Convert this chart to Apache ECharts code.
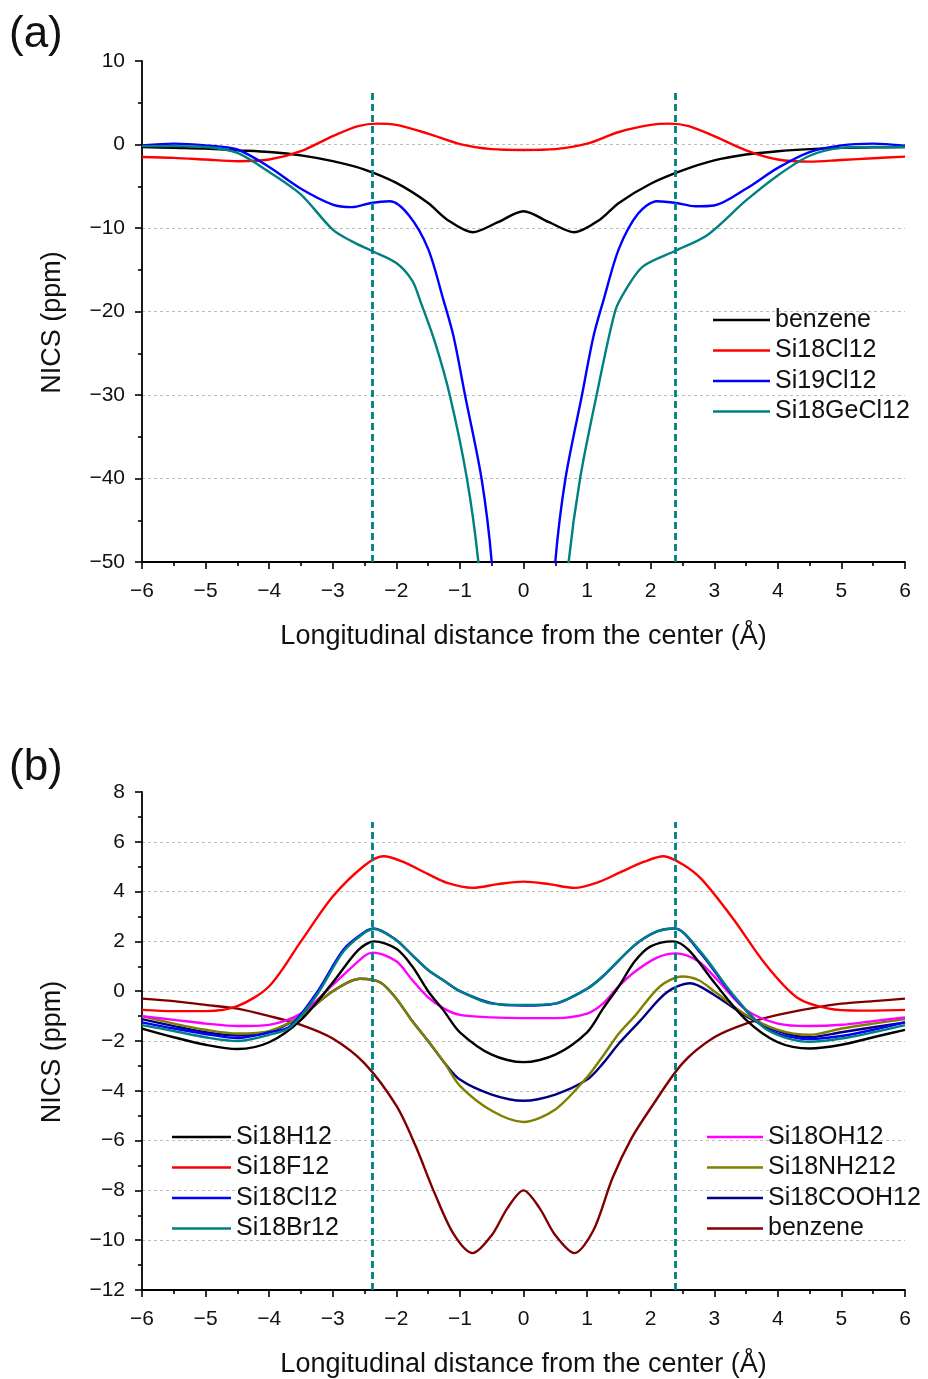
<!DOCTYPE html>
<html>
<head>
<meta charset="utf-8">
<script src="https://cdn.jsdelivr.net/npm/echarts@6/dist/echarts.min.js"></script>
<style>
html,body{margin:0;padding:0;background:#fff}
#chart{width:928px;height:1379px}
</style>
</head>
<body>
<div id="chart"></div>
<script>
// panel (a)
const aBenzeneX = [-6,-5.5,-5,-4.5,-4,-3.5,-3,-2.5,-2,-1.5,-1.2,-0.8,-0.4,0,0.4,0.8,1.2,1.5,2,2.5,3,3.5,4,4.5,5,5.5,6]
const aBenzeneY = [-0.3,-0.4,-0.5,-0.7,-0.9,-1.3,-2.0,-3.0,-4.6,-7.0,-9.0,-10.5,-9.3,-8.0,-9.3,-10.5,-9.0,-7.0,-4.7,-3.1,-1.9,-1.2,-0.8,-0.55,-0.4,-0.35,-0.3]
const aSi18Cl12X = [-6,-5.5,-5,-4.5,-4,-3.5,-3,-2.6,-2.3,-2,-1.5,-1,-0.5,0,0.5,1,1.5,2,2.3,2.6,3,3.5,4,4.5,5,5.5,6]
const aSi18Cl12Y = [-1.5,-1.6,-1.8,-2.0,-1.8,-0.8,1.0,2.2,2.5,2.35,1.3,0.05,-0.55,-0.65,-0.55,0.1,1.5,2.35,2.5,2.2,1.0,-0.7,-1.8,-2.05,-1.85,-1.65,-1.45]
const aSi19Cl12X = [-6,-5.5,-5,-4.5,-4,-3.5,-3,-2.7,-2.4,-2.1,-1.8,-1.5,-1.26,-1.1,-0.92,-0.66,-0.5,-0.3,0,0.3,0.5,0.66,0.92,1.1,1.26,1.5,1.8,2.1,2.4,2.7,3,3.5,4,4.5,5,5.5,6]
const aSi19Cl12Y = [-0.1,0.1,-0.1,-0.6,-2.7,-5.3,-7.2,-7.5,-7.0,-6.8,-8.5,-12.5,-18.6,-23,-30,-40,-50,-72,-100,-72,-50,-40,-30,-23,-18.6,-12.5,-8.3,-6.8,-7.0,-7.4,-7.3,-5.3,-2.8,-0.9,-0.1,0.1,-0.15]
const aSi18GeCl12X = [-6,-5.5,-5,-4.5,-4,-3.5,-3,-2.7,-2.4,-2,-1.75,-1.63,-1.4,-1.16,-0.89,-0.71,-0.5,0,0.5,0.71,0.89,1.15,1.44,1.6,1.88,2.4,2.9,3.5,4,4.5,5,5.5,6]
const aSi18GeCl12Y = [-0.2,-0.2,-0.3,-1.0,-3.3,-6.0,-10.2,-11.6,-12.7,-14.2,-16.3,-18.6,-23.5,-30,-40,-50,-68,-100,-68,-50,-40,-30,-20,-17.5,-14.6,-12.7,-10.8,-6.7,-3.7,-1.35,-0.4,-0.3,-0.3]

// panel (b)
const bSi18H12X = [-6,-5.5,-5,-4.5,-4,-3.5,-3,-2.6,-2.35,-2,-1.75,-1.5,-1.25,-1,-0.5,0,0.5,1,1.25,1.5,1.75,2,2.35,2.6,3,3.5,4,4.5,5,5.5,6]
const bSi18H12Y = [-1.5,-1.85,-2.15,-2.32,-2.05,-1.15,0.35,1.65,2.0,1.7,1.0,0.0,-0.8,-1.65,-2.55,-2.85,-2.55,-1.65,-0.7,0.2,1.2,1.8,2.0,1.65,0.35,-1.15,-2.05,-2.3,-2.15,-1.85,-1.55]
const bSi18F12X = [-6,-5.5,-5,-4.5,-4,-3.5,-3,-2.5,-2.2,-1.9,-1.5,-1.2,-0.8,-0.4,0,0.4,0.8,1.2,1.5,1.9,2.2,2.5,2.8,3.3,3.8,4.3,4.8,5.3,6]
const bSi18F12Y = [-0.75,-0.8,-0.8,-0.6,0.2,2.0,3.8,5.05,5.42,5.2,4.7,4.35,4.15,4.3,4.4,4.3,4.15,4.4,4.75,5.2,5.42,5.1,4.5,2.9,1.1,-0.25,-0.7,-0.78,-0.75]
const bSi18Cl12X = [-6,-5.5,-5,-4.5,-4,-3.67,-3.25,-2.83,-2.5,-2.35,-2,-1.75,-1.5,-1.25,-1,-0.5,0,0.5,1,1.25,1.75,2.1,2.38,2.78,3.3,3.83,4.5,5,5.5,6]
const bSi18Cl12Y = [-1.25,-1.5,-1.72,-1.88,-1.65,-1.4,-0.05,1.68,2.38,2.52,2.05,1.45,0.85,0.42,0.0,-0.48,-0.58,-0.5,0.1,0.6,1.85,2.4,2.52,1.55,-0.19,-1.52,-1.92,-1.8,-1.55,-1.25]
const bSi18Br12X = [-6,-5.5,-5,-4.5,-4,-3.67,-3.25,-2.83,-2.5,-2.35,-2,-1.75,-1.5,-1.25,-1,-0.5,0,0.5,1,1.25,1.75,2.1,2.38,2.78,3.3,3.83,4.5,5,5.5,6]
const bSi18Br12Y = [-1.36,-1.6,-1.85,-2.0,-1.75,-1.45,-0.15,1.6,2.35,2.5,2.05,1.45,0.85,0.42,0.0,-0.5,-0.55,-0.5,0.1,0.6,1.85,2.4,2.52,1.6,-0.15,-1.55,-2.03,-1.9,-1.65,-1.36]
const bSi18OH12X = [-6,-5.5,-5,-4.5,-4,-3.5,-3,-2.5,-2.37,-2,-1.75,-1.5,-1.25,-1,-0.5,0,0.5,1,1.25,1.5,1.75,2.1,2.4,2.75,3.05,3.5,4,4.5,5,5.5,6]
const bSi18OH12Y = [-1.0,-1.15,-1.3,-1.4,-1.35,-0.9,0.25,1.42,1.55,1.2,0.45,-0.25,-0.7,-0.95,-1.05,-1.08,-1.08,-0.9,-0.5,0.2,0.78,1.35,1.52,1.2,0.45,-0.75,-1.3,-1.4,-1.35,-1.2,-1.05]
const bSi18NH212X = [-6,-5.5,-5,-4.5,-4,-3.5,-3,-2.57,-2.25,-2,-1.75,-1.5,-1.25,-1,-0.5,0,0.5,1,1.25,1.5,1.75,2.15,2.5,2.75,3,3.5,4,4.5,5,5.5,6]
const bSi18NH212Y = [-1.0,-1.3,-1.55,-1.7,-1.6,-1.0,0.0,0.5,0.35,-0.3,-1.2,-2.0,-2.85,-3.8,-4.8,-5.25,-4.75,-3.45,-2.6,-1.7,-1.0,0.2,0.59,0.45,0.0,-0.95,-1.55,-1.75,-1.5,-1.3,-1.12]
const bSi18COOH12X = [-6,-5.5,-5,-4.5,-4,-3.5,-3,-2.57,-2.25,-2,-1.75,-1.5,-1.25,-1,-0.5,0,0.5,1,1.25,1.5,1.83,2.25,2.62,3,3.5,4,4.5,5,5.5,6]
const bSi18COOH12Y = [-1.12,-1.4,-1.65,-1.78,-1.65,-1.0,0.0,0.5,0.35,-0.3,-1.2,-2.0,-2.85,-3.55,-4.15,-4.4,-4.15,-3.55,-2.9,-2.1,-1.2,-0.05,0.32,-0.15,-1.0,-1.6,-1.85,-1.65,-1.45,-1.25]
const bBenzeneX = [-6,-5.5,-5,-4.5,-4,-3.5,-3,-2.5,-2,-1.7,-1.4,-1.1,-0.8,-0.5,-0.25,0,0.25,0.5,0.8,1.1,1.4,1.7,2,2.5,3,3.5,4,4.5,5,5.5,6]
const bBenzeneY = [-0.3,-0.4,-0.55,-0.7,-1.0,-1.35,-1.9,-2.9,-4.6,-6.2,-8.1,-9.75,-10.52,-9.8,-8.7,-8.0,-8.7,-9.8,-10.52,-9.6,-7.5,-5.9,-4.7,-2.9,-1.85,-1.3,-0.95,-0.7,-0.5,-0.4,-0.3]

// dashed boundary lines
const boundaryX = [-2.38, 2.38]
const boundaryTopA = 6.3
const boundaryTopB = 6.8

const FONT = 'Liberation Sans, Arial, sans-serif'

function pairs(xs, ys) {
    return xs.map((x, i) => [x, ys[i]])
}

// origin style minus sign
function tickText(v) {
    return String(v).replace('-', '\u2212')
}

function lineSeries(name, xs, ys, color, idx) {
    return {
        name: name,
        type: 'line',
        xAxisIndex: idx,
        yAxisIndex: idx,
        data: pairs(xs, ys),
        smooth: 0.3,
        symbol: 'none',
        clip: true,
        lineStyle: {color: color, width: 2.4},
        itemStyle: {color: color},
        z: 3
    }
}

function boundarySeries(idx, yMin, yTop) {
    return {
        type: 'line',
        xAxisIndex: idx,
        yAxisIndex: idx,
        data: [],
        markLine: {
            silent: true,
            symbol: 'none',
            label: {show: false},
            lineStyle: {color: '#008080', width: 2.8, type: [7, 4]},
            data: boundaryX.map(x => [{coord: [x, yMin]}, {coord: [x, yTop]}])
        }
    }
}

function xAxisOf(idx) {
    return {
        gridIndex: idx,
        type: 'value',
        min: -6, max: 6, interval: 1,
        name: 'Longitudinal distance from the center (Å)',
        nameLocation: 'middle',
        nameGap: 61,
        nameTextStyle: {fontSize: 27, color: '#111', fontFamily: FONT},
        axisLine: {show: true, onZero: false, lineStyle: {color: '#000', width: 1.8}},
        axisTick: {show: true, length: 7, lineStyle: {color: '#000', width: 1.6}},
        minorTick: {show: true, splitNumber: 2, length: 4, lineStyle: {color: '#000', width: 1.6}},
        axisLabel: {fontSize: 21, color: '#111', margin: 19, fontFamily: FONT, formatter: tickText},
        splitLine: {show: false}
    }
}

function yAxisOf(idx, min, max, interval) {
    return {
        gridIndex: idx,
        type: 'value',
        min: min, max: max, interval: interval,
        name: 'NICS (ppm)',
        nameLocation: 'middle',
        nameGap: 76,
        nameTextStyle: {fontSize: 27, color: '#111', fontFamily: FONT, padding: [0, 22, 0, 0]},
        axisLine: {show: true, onZero: false, lineStyle: {color: '#000', width: 1.8}},
        axisTick: {show: true, length: 7, lineStyle: {color: '#000', width: 1.6}},
        minorTick: {show: true, splitNumber: 2, length: 4, lineStyle: {color: '#000', width: 1.6}},
        axisLabel: {fontSize: 21, color: '#111', margin: 17, fontFamily: FONT, formatter: tickText},
        splitLine: {show: true, showMaxLine: false, lineStyle: {color: '#bdbdbd', width: 1, type: [3, 3]}}
    }
}

const legendBase = {
    orient: 'vertical',
    icon: 'rect',
    itemWidth: 57,
    itemHeight: 2.5,
    itemGap: 4.5,
    selectedMode: false,
    textStyle: {fontSize: 25, lineHeight: 26, color: '#111', fontFamily: FONT},
    formatter: name => name.replace(' (b)', '')
}

const chart = echarts.init(document.getElementById('chart'))
chart.setOption({
    animation: false,
    backgroundColor: '#fff',
    title: [
        {text: '(a)', left: 9, top: 13, padding: 0, textStyle: {fontSize: 44, fontWeight: 'normal', color: '#111', fontFamily: FONT}},
        {text: '(b)', left: 9, top: 746, padding: 0, textStyle: {fontSize: 44, fontWeight: 'normal', color: '#111', fontFamily: FONT}}
    ],
    grid: [
        {left: 142, top: 61, width: 763, height: 501},
        {left: 142, top: 792, width: 763, height: 500}
    ],
    xAxis: [xAxisOf(0), xAxisOf(1)],
    yAxis: [yAxisOf(0, -50, 10, 10), yAxisOf(1, -12, 8, 2)],
    legend: [
        Object.assign({}, legendBase, {left: 713, top: 307, padding: 0, data: ['benzene', 'Si18Cl12', 'Si19Cl12', 'Si18GeCl12']}),
        Object.assign({}, legendBase, {left: 172, top: 1124, padding: 0, itemWidth: 59, data: ['Si18H12 (b)', 'Si18F12 (b)', 'Si18Cl12 (b)', 'Si18Br12 (b)']}),
        Object.assign({}, legendBase, {left: 707, top: 1124, padding: 0, itemWidth: 56, data: ['Si18OH12 (b)', 'Si18NH212 (b)', 'Si18COOH12 (b)', 'benzene (b)']})
    ],
    series: [
        boundarySeries(0, -50, boundaryTopA),
        lineSeries('benzene', aBenzeneX, aBenzeneY, '#000000', 0),
        lineSeries('Si18Cl12', aSi18Cl12X, aSi18Cl12Y, '#ff0000', 0),
        lineSeries('Si19Cl12', aSi19Cl12X, aSi19Cl12Y, '#0000ff', 0),
        lineSeries('Si18GeCl12', aSi18GeCl12X, aSi18GeCl12Y, '#008080', 0),
        boundarySeries(1, -12, boundaryTopB),
        lineSeries('benzene (b)', bBenzeneX, bBenzeneY, '#800000', 1),
        lineSeries('Si18COOH12 (b)', bSi18COOH12X, bSi18COOH12Y, '#000080', 1),
        lineSeries('Si18NH212 (b)', bSi18NH212X, bSi18NH212Y, '#808000', 1),
        lineSeries('Si18OH12 (b)', bSi18OH12X, bSi18OH12Y, '#ff00ff', 1),
        lineSeries('Si18H12 (b)', bSi18H12X, bSi18H12Y, '#000000', 1),
        lineSeries('Si18Cl12 (b)', bSi18Cl12X, bSi18Cl12Y, '#0000ff', 1),
        lineSeries('Si18Br12 (b)', bSi18Br12X, bSi18Br12Y, '#008080', 1),
        lineSeries('Si18F12 (b)', bSi18F12X, bSi18F12Y, '#ff0000', 1)
    ]
})
</script>
</body>
</html>
